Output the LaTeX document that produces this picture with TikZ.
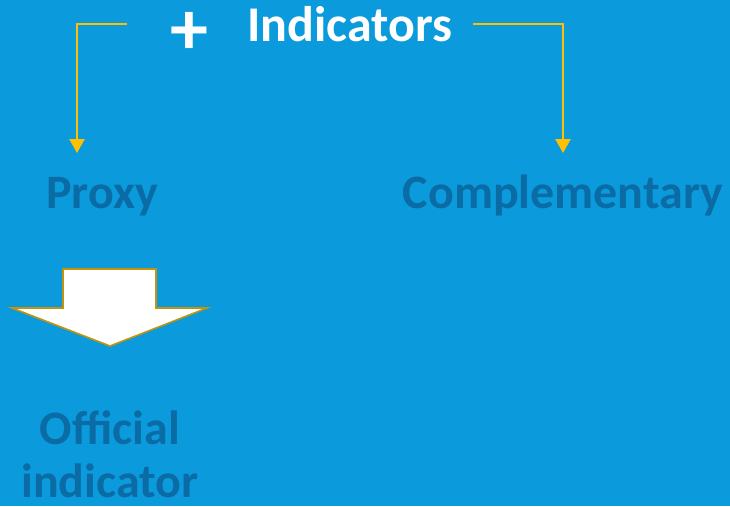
\documentclass[tikz,border=0pt]{standalone}
\usepackage{fontspec}
\setmainfont{Carlito}
\usetikzlibrary{arrows.meta}
\definecolor{bg}{HTML}{0B9BDC}
\definecolor{dark}{HTML}{0A6BA5}
\definecolor{gold}{HTML}{FFC000}
\definecolor{edge}{HTML}{C3930E}
\tikzset{
  conn/.style={draw=gold, line width=2.5pt, -{Triangle[width=15pt,length=14pt]}},
  lbl/.style={text=dark, font=\bfseries\fontsize{48}{52}\selectfont, inner sep=0pt},
}
\begin{document}
\begin{tikzpicture}[x=1pt,y=-1pt]
\fill[bg] (0,0) rectangle (730,506);
\useasboundingbox (0,0) rectangle (730,506);
\node[inner sep=0pt, anchor=base, text height=24pt, text depth=0pt, text=white, font=\bfseries\fontsize{76}{76}\selectfont] (plus) at (189,54) {+};
\node[inner sep=0pt, anchor=base west, text=white, font=\bfseries\fontsize{50}{54}\selectfont] (ind) at (247,41) {Indicators};
\node[lbl, anchor=base] (proxy) at (102,208) {Proxy};
\node[lbl, anchor=base] (comp) at (563,208) {Complementary};
\node[lbl, anchor=base] (off) at (110,444) {Official};
\node[lbl, anchor=base, text depth=0pt] (off2) at (110,497) {indicator};
\coordinate (ls) at (127,24);
\coordinate (le) at (77,153);
\coordinate (rs) at (473,24);
\coordinate (re) at (563,153);
\draw[conn] (ls) -| (le);
\draw[conn] (rs) -| (re);
\draw[fill=white, draw=edge, line width=1.6pt, line join=miter]
  (63,269) -- (156,269) -- (156,308) -- (207,308) -- (110,346) -- (12,308) -- (63,308) -- cycle;
\end{tikzpicture}
\end{document}
